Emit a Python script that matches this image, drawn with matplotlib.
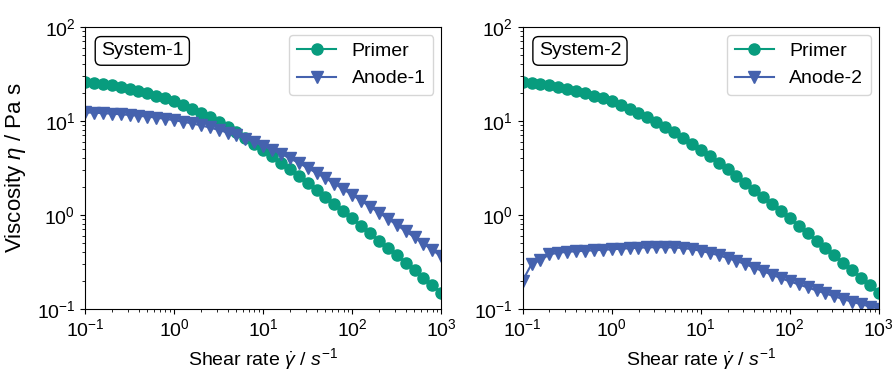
import numpy as np
import matplotlib
matplotlib.use("Agg")
import matplotlib.pyplot as plt

plt.rcParams['font.family'] = ['Liberation Sans', 'DejaVu Sans']
plt.rcParams['mathtext.fontset'] = 'custom'
plt.rcParams['mathtext.rm'] = 'Liberation Sans'
plt.rcParams['mathtext.it'] = 'Liberation Sans:italic'

GREEN = '#089c7e'
BLUE = '#4562ae'

# shear rate, 10 points per decade
shear_rate = np.logspace(-1, 3, 41)

primer = [26.0, 25.4, 24.7, 23.9, 23.0, 22.0, 20.9, 19.8, 18.6, 17.4,
          16.1, 14.8, 13.5, 12.22, 10.97, 9.77, 8.63, 7.57, 6.60, 5.71,
          4.92, 4.22, 3.60, 3.06, 2.59, 2.19, 1.848, 1.555, 1.304, 1.093,
          0.916, 0.766, 0.640, 0.534, 0.446, 0.372, 0.310, 0.258, 0.215, 0.179,
          0.149]

anode1 = [12.32, 12.21, 12.08, 11.93, 11.76, 11.57, 11.35, 11.10, 10.83, 10.52,
          10.18, 9.81, 9.40, 8.97, 8.51, 8.02, 7.52, 7.00, 6.48, 5.96,
          5.44, 4.94, 4.46, 4.00, 3.57, 3.16, 2.79, 2.46, 2.15, 1.877,
          1.633, 1.416, 1.225, 1.058, 0.912, 0.784, 0.673, 0.577, 0.495, 0.423,
          0.362]

anode2 = [0.20, 0.30, 0.33, 0.38, 0.395, 0.405, 0.41, 0.415, 0.42, 0.425,
          0.43, 0.436, 0.442, 0.447, 0.451, 0.453, 0.453, 0.450, 0.444, 0.432,
          0.415, 0.394, 0.372, 0.348, 0.324, 0.299, 0.274, 0.251, 0.231, 0.212,
          0.196, 0.182, 0.169, 0.157, 0.146, 0.136, 0.127, 0.119, 0.112, 0.106,
          0.100]

panels = [("System-1", "Anode-1", anode1), ("System-2", "Anode-2", anode2)]

fig = plt.figure(figsize=(8.95, 3.79), dpi=100)
ax1 = fig.add_axes([0.095, 0.185, 0.398, 0.744])
ax2 = fig.add_axes([0.584, 0.185, 0.398, 0.744])

for ax, (title, name, anode) in zip([ax1, ax2], panels):
    ax.plot(shear_rate, primer, '-o', color=GREEN, ms=8, lw=1.5, label="Primer")
    ax.plot(shear_rate, anode, '-v', color=BLUE, ms=9, lw=1.5, label=name)
    ax.set_xscale('log')
    ax.set_yscale('log')
    ax.set_xlim(0.1, 1000)
    ax.set_ylim(0.1, 100)
    ax.tick_params(labelsize=14)
    ax.set_xlabel(r"Shear rate $\dot{\gamma}$ / $s^{-1}$", fontsize=14)
    ax.text(0.045, 0.945, title, transform=ax.transAxes, fontsize=14,
            ha='left', va='top',
            bbox=dict(boxstyle='round,pad=0.3', fc='white', ec='black', lw=1))
    ax.legend(loc='upper right', fontsize=14, borderaxespad=0.4)

ax1.set_ylabel(r"Viscosity $\eta$ / Pa s", fontsize=16, labelpad=6)

fig.savefig("out.png", dpi=100)
